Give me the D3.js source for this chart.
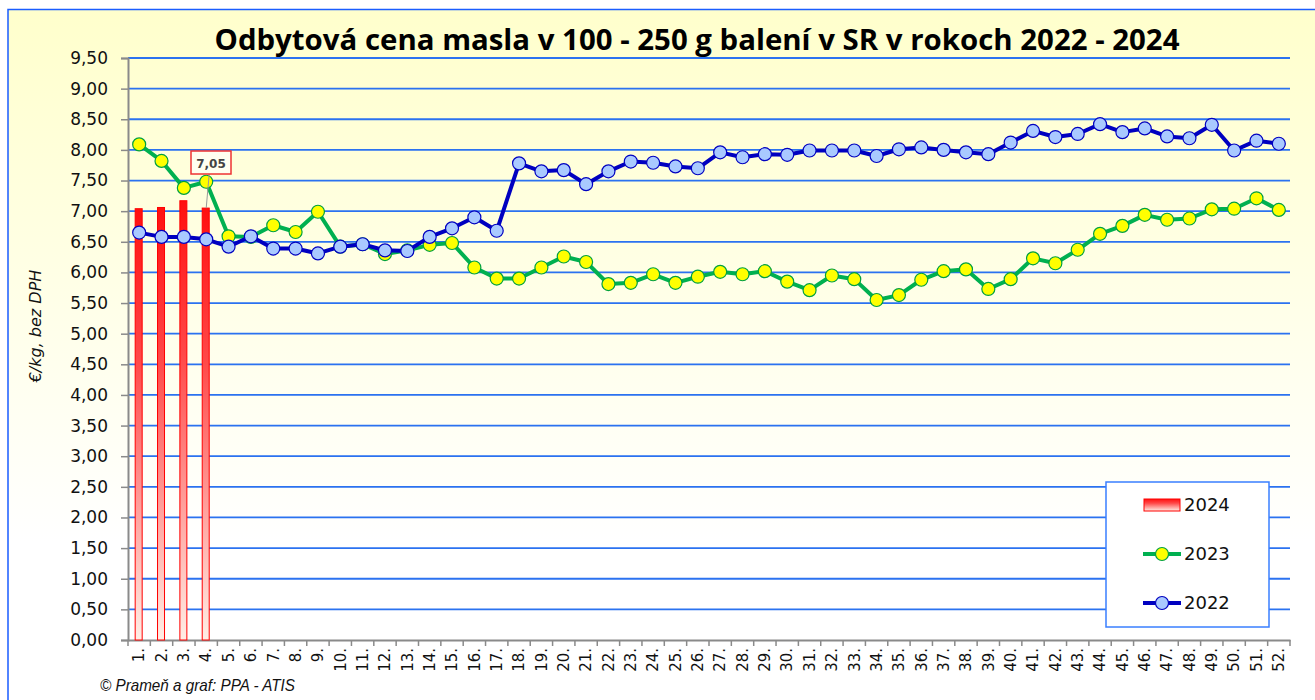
<!DOCTYPE html>
<html>
<head>
<meta charset="utf-8">
<script src="https://cdn.jsdelivr.net/npm/d3@7"></script>
<style>
  body { margin: 0; background: #fff; }
  svg { display: block; }
</style>
</head>
<body>
<div id="chart"></div>
<script>
// data
const weeks = d3.range(1, 53).map(d => d + ".");

const price2024 = [7.04, 7.06, 7.17, 7.05];

const price2023 = [8.09, 7.82, 7.38, 7.48, 6.59, 6.58, 6.77, 6.66, 6.99, 6.42,
                   6.46, 6.30, 6.36, 6.45, 6.48, 6.08, 5.90, 5.90, 6.08, 6.26,
                   6.17, 5.81, 5.83, 5.97, 5.83, 5.93, 6.01, 5.97, 6.02, 5.85,
                   5.71, 5.95, 5.89, 5.55, 5.63, 5.88, 6.02, 6.05, 5.73, 5.89,
                   6.23, 6.15, 6.37, 6.63, 6.76, 6.94, 6.86, 6.88, 7.03, 7.04,
                   7.21, 7.02];

const price2022 = [6.65, 6.58, 6.58, 6.54, 6.42, 6.59, 6.39, 6.39, 6.31, 6.42,
                   6.46, 6.36, 6.35, 6.58, 6.72, 6.90, 6.68, 7.78, 7.65, 7.67,
                   7.44, 7.65, 7.81, 7.79, 7.73, 7.70, 7.96, 7.88, 7.93, 7.92,
                   7.99, 7.99, 7.99, 7.90, 8.01, 8.04, 8.00, 7.96, 7.93, 8.12,
                   8.31, 8.21, 8.26, 8.42, 8.29, 8.35, 8.22, 8.19, 8.41, 7.99,
                   8.15, 8.10];

const yTicks = d3.range(0, 9.51, 0.5);
const legendItems = ["2024", "2023", "2022"];

const W = 1315, H = 700;
const plot = {left: 128, right: 1290, top: 58, bottom: 640};

const svg = d3.select("#chart").append("svg")
    .attr("width", W).attr("height", H)
    .attr("viewBox", [0, 0, W, H]);

const defs = svg.append("defs");

// background gradient of the chart frame
const bg = defs.append("linearGradient").attr("id", "bgGrad")
    .attr("x1", 0).attr("y1", 0).attr("x2", 0).attr("y2", 1);
bg.append("stop").attr("offset", "0%").attr("stop-color", "#ffffcc");
bg.append("stop").attr("offset", "75%").attr("stop-color", "#ffffff");

// bar gradient
const bg2 = defs.append("linearGradient").attr("id", "barGrad")
    .attr("x1", 0).attr("y1", 0).attr("x2", 0).attr("y2", 1);
bg2.append("stop").attr("offset", "0%").attr("stop-color", "#ff1010");
bg2.append("stop").attr("offset", "35%").attr("stop-color", "#ff4848");
bg2.append("stop").attr("offset", "100%").attr("stop-color", "#ffeee6");

// frame
svg.append("rect")
    .attr("x", 8).attr("y", 9.5)
    .attr("width", W + 10).attr("height", H + 10)
    .attr("fill", "url(#bgGrad)")
    .attr("stroke", "#1a5cff").attr("stroke-width", 1.5);

// scales
const x = d3.scaleBand().domain(weeks).range([plot.left, plot.right]);
const y = d3.scaleLinear().domain([0, 9.5]).range([plot.bottom, plot.top]);

// gridlines
svg.append("g")
    .selectAll("line")
    .data(yTicks.filter(d => d > 0))
    .join("line")
    .attr("x1", plot.left).attr("x2", plot.right)
    .attr("y1", d => y(d)).attr("y2", d => y(d))
    .attr("stroke", "#2b72f0").attr("stroke-width", 1.8);

// y axis
const yAxis = svg.append("g")
    .attr("transform", `translate(${plot.left},0)`)
    .call(d3.axisLeft(y).tickValues(yTicks).tickSize(7).tickPadding(13)
        .tickFormat(d => d3.format(".2f")(d).replace(".", ",")));
yAxis.select(".domain").attr("stroke", "#8a8a8a").attr("stroke-width", 2);
yAxis.selectAll(".tick line").attr("stroke", "#8a8a8a").attr("stroke-width", 1.5);
yAxis.selectAll(".tick text")
    .attr("font-family", "DejaVu Sans").attr("font-size", 17).attr("fill", "#111");

// x axis
const xAxis = svg.append("g")
    .attr("transform", `translate(0,${plot.bottom})`)
    .call(d3.axisBottom(x).tickSize(0).tickPadding(0));
xAxis.select(".domain").attr("stroke", "#8a8a8a").attr("stroke-width", 2);
xAxis.selectAll(".tick text")
    .attr("font-family", "DejaVu Sans").attr("font-size", 15).attr("fill", "#111")
    .attr("transform", "rotate(-90)")
    .attr("text-anchor", "end")
    .attr("x", -8).attr("y", 0).attr("dy", "0.35em");
// boundary ticks
svg.append("g")
    .selectAll("line")
    .data(weeks.concat(["end"]))
    .join("line")
    .attr("x1", d => d === "end" ? plot.right : x(d))
    .attr("x2", d => d === "end" ? plot.right : x(d))
    .attr("y1", plot.bottom).attr("y2", plot.bottom + 6)
    .attr("stroke", "#8a8a8a").attr("stroke-width", 1.5);

// 2024 bars
const barW = 7;
svg.append("g")
    .selectAll("rect")
    .data(price2024)
    .join("rect")
    .attr("x", (d, i) => x(weeks[i]) + x.bandwidth() / 2 - barW / 2 - 0.5)
    .attr("y", d => y(d))
    .attr("width", barW)
    .attr("height", d => y(0) - y(d))
    .attr("fill", "url(#barGrad)")
    .attr("stroke", "#ff0000").attr("stroke-width", 1);

// lines
const line = d3.line()
    .x((d, i) => x(weeks[i]) + x.bandwidth() / 2)
    .y(d => y(d));

function drawSeries(values, lineColor, fill, stroke) {
    const g = svg.append("g");
    g.append("path")
        .attr("d", line(values))
        .attr("fill", "none")
        .attr("stroke", lineColor)
        .attr("stroke-width", 4)
        .attr("stroke-linejoin", "round");
    g.selectAll("circle")
        .data(values)
        .join("circle")
        .attr("cx", (d, i) => x(weeks[i]) + x.bandwidth() / 2)
        .attr("cy", d => y(d))
        .attr("r", 6.5)
        .attr("fill", fill)
        .attr("stroke", stroke)
        .attr("stroke-width", 1.2);
}
drawSeries(price2023, "#00b050", "#ffff00", "#00a040");
drawSeries(price2022, "#0000c0", "#a9c9ff", "#0000c0");

// data label 7,05
const lx = x(weeks[3]) + x.bandwidth() / 2;
svg.append("line")
    .attr("x1", lx + 3).attr("y1", 174)
    .attr("x2", lx).attr("y2", y(price2024[3]))
    .attr("stroke", "#999").attr("stroke-width", 1);
svg.append("rect")
    .attr("x", 191).attr("y", 151).attr("width", 40).attr("height", 23)
    .attr("fill", "#fffff0").attr("stroke", "#ee3333").attr("stroke-width", 1.5);
svg.append("text")
    .attr("x", 211).attr("y", 167.5)
    .attr("text-anchor", "middle")
    .attr("font-family", "DejaVu Sans").attr("font-weight", "bold")
    .attr("font-size", 12).attr("fill", "#444")
    .text(d3.format(".2f")(price2024[3]).replace(".", ","));

// title
svg.append("text")
    .attr("x", 697).attr("y", 50)
    .attr("text-anchor", "middle")
    .attr("font-family", "Open Sans").attr("font-weight", "bold")
    .attr("font-size", 29).attr("fill", "#000")
    .attr("textLength", 965).attr("lengthAdjust", "spacingAndGlyphs")
    .text("Odbytová cena masla v 100 - 250 g balení v SR v rokoch 2022 - 2024");

// y axis title
svg.append("text")
    .attr("transform", "translate(41,326) rotate(-90)")
    .attr("text-anchor", "middle")
    .attr("font-family", "DejaVu Sans").attr("font-style", "italic")
    .attr("font-size", 16).attr("fill", "#111")
    .text("€/kg, bez DPH");

// footer
svg.append("text")
    .attr("x", 100).attr("y", 691)
    .attr("font-family", "Liberation Sans").attr("font-style", "italic")
    .attr("font-size", 17).attr("fill", "#111")
    .attr("textLength", 195).attr("lengthAdjust", "spacingAndGlyphs")
    .text("© Prameň a graf: PPA - ATIS");

// legend
const leg = svg.append("g");
leg.append("rect")
    .attr("x", 1106).attr("y", 482).attr("width", 163).attr("height", 145)
    .attr("fill", "#fff").attr("stroke", "#3a7fff").attr("stroke-width", 1.5);
const legY = [505, 554, 603];
legendItems.forEach((name, i) => {
    const cy = legY[i];
    if (i === 0) {
        leg.append("rect")
            .attr("x", 1144).attr("y", cy - 6).attr("width", 36).attr("height", 12)
            .attr("fill", "url(#barGrad)").attr("stroke", "#ff0000");
    } else {
        const col = i === 1 ? "#00b050" : "#0000c0";
        leg.append("line")
            .attr("x1", 1143).attr("x2", 1181).attr("y1", cy).attr("y2", cy)
            .attr("stroke", col).attr("stroke-width", 4);
        leg.append("circle")
            .attr("cx", 1162).attr("cy", cy).attr("r", 6.5)
            .attr("fill", i === 1 ? "#ffff00" : "#a9c9ff")
            .attr("stroke", i === 1 ? "#00a040" : "#0000c0").attr("stroke-width", 1.2);
    }
    leg.append("text")
        .attr("x", 1184).attr("y", cy).attr("dy", "0.36em")
        .attr("font-family", "DejaVu Sans").attr("font-size", 18).attr("fill", "#111")
        .text(name);
});
</script>
</body>
</html>
